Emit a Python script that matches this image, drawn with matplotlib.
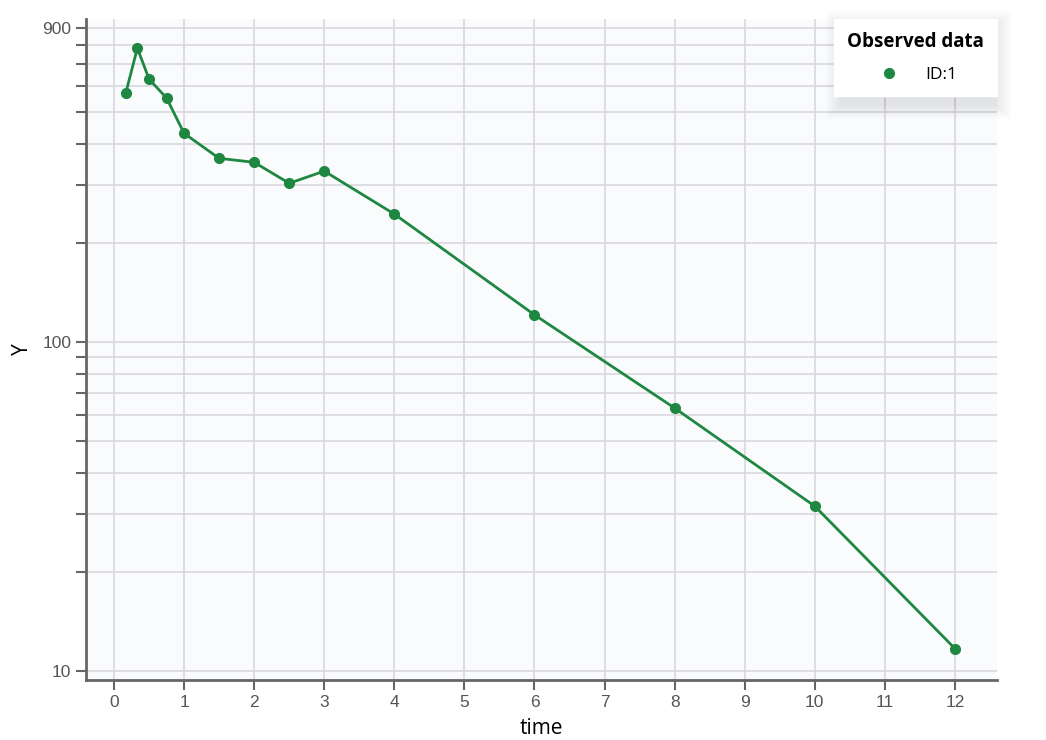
import numpy as np
import matplotlib.pyplot as plt
from matplotlib.patches import Rectangle
from matplotlib.ticker import FixedLocator, NullFormatter

# observed data
time = [0.167, 0.333, 0.5, 0.75, 1, 1.5, 2, 2.5, 3, 4, 6, 8, 10, 12]
conc = [571, 783, 630, 552, 431, 362, 352, 304, 331, 245, 121, 63, 31.7, 11.7]
series_name = "ID:1"
legend_title = "Observed data"
x_ticks = list(range(0, 13))
y_major = [10, 100, 900]
y_minor = [20, 30, 40, 50, 60, 70, 80, 90, 200, 300, 400, 500, 600, 700, 800]

green = "#1e8741"
W, H = 1046, 740

fig = plt.figure(figsize=(W / 100, H / 100), dpi=100)
ax = fig.add_axes([86 / W, 1 - 680 / H, (997 - 86) / W, (680 - 19) / H])
ax.set_facecolor("#fafbfd")

ax.plot(time, conc, color=green, lw=2, marker="o", ms=7, zorder=3, label=series_name)

ax.set_yscale("log")
ax.set_ylim(9.39, 960)
ax.set_xlim(-0.4, 12.6)

ax.yaxis.set_major_locator(FixedLocator(y_major))
ax.yaxis.set_minor_locator(FixedLocator(y_minor))
ax.yaxis.set_minor_formatter(NullFormatter())
ax.set_yticklabels([str(v) for v in y_major])
ax.set_xticks(x_ticks)

ax.grid(True, which="both", color="#d9d9dd", lw=1.2, zorder=0)
ax.set_axisbelow(True)

for s in ["top", "right"]:
    ax.spines[s].set_visible(False)
for s in ["left", "bottom"]:
    ax.spines[s].set_color("#666666")
    ax.spines[s].set_linewidth(2)

ax.tick_params(which="both", color="#666666", width=1.5, length=7,
               labelcolor="#555555", labelsize=12.5)
for lab in ax.get_xticklabels() + ax.get_yticklabels():
    lab.set_family("Liberation Sans")

ax.set_xlabel("time", fontsize=15, family="Open Sans", labelpad=6)
ax.set_ylabel("Y", fontsize=15, family="Open Sans", labelpad=7)

# soft shadow behind legend box (pixels 840..997, 19..99)
lx0, lx1, ly0, ly1 = 840, 997, 19, 99
for i in range(8):
    d = i * 2.0
    sh = Rectangle(((lx0 - d) / W, 1 - (ly1 + 6 + d) / H),
                   (lx1 - lx0 + 2 * d) / W, (ly1 - ly0 + 2 * d) / H,
                   transform=fig.transFigure, fc="black", ec="none",
                   alpha=0.013, zorder=6, clip_on=False)
    ax.add_patch(sh)

leg = ax.legend(title=legend_title, loc="upper right", bbox_to_anchor=(1.0, 1.0),
                borderaxespad=0, frameon=True, fancybox=False, framealpha=1,
                edgecolor="white", facecolor="white",
                prop={"family": "Open Sans", "size": 12.5},
                title_fontproperties={"family": "Open Sans", "weight": "bold", "size": 13.5},
                handlelength=1.8, handletextpad=1.2, borderpad=0.75, labelspacing=0.6)
leg.set_zorder(10)
leg._legend_box.sep = 11
for h in leg.legend_handles:
    h.set_linestyle("none")

fig.savefig("out.png", dpi=100)
